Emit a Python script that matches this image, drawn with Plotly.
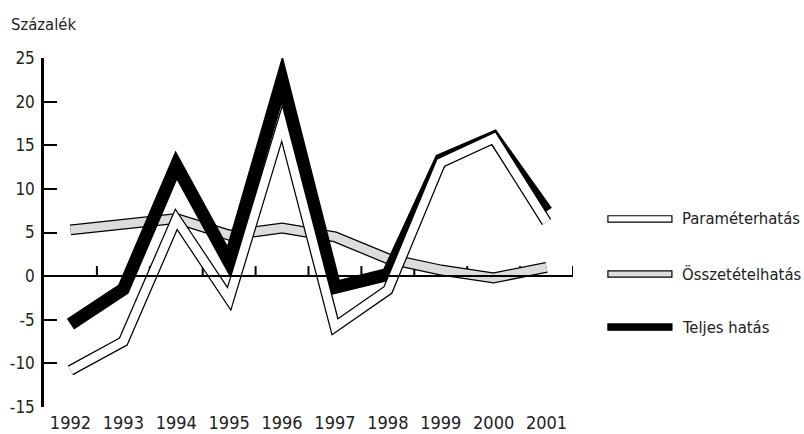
import plotly.graph_objects as go

# Data (percent)
years = ["1992", "1993", "1994", "1995", "1996", "1997", "1998", "1999", "2000", "2001"]
parameter_effect = [-10.8, -7.5, 6.5, -2.6, 17.5, -5.8, -1.6, 13.0, 15.8, 6.2]
composition_effect = [5.3, 6.0, 6.6, 4.7, 5.5, 4.5, 2.0, 0.7, -0.2, 1.0]
total_effect = [-5.5, -1.5, 12.7, 1.6, 22.5, -1.3, 0.2, 13.3, 15.9, 7.4]

series_names = ["Paraméterhatás", "Összetételhatás", "Teljes hatás"]
y_ticks = [-15, -10, -5, 0, 5, 10, 15, 20, 25]
y_tick_text = [str(v) for v in y_ticks]

FONT = "DejaVu Sans Condensed, Liberation Sans Narrow, sans-serif"
TEXT = "#222222"
GRAY = "#dcdcdc"

idx = list(range(len(years)))

fig = go.Figure()


def ribbon(values, fill, outer=11, inner=8.5):
    # outlined band: black stroke underneath, coloured stroke on top
    fig.add_trace(go.Scatter(x=idx, y=values, mode="lines",
                             line=dict(color="black", width=outer),
                             hoverinfo="skip", showlegend=False))
    if fill is not None:
        fig.add_trace(go.Scatter(x=idx, y=values, mode="lines",
                                 line=dict(color=fill, width=inner),
                                 hoverinfo="skip", showlegend=False))


ribbon(composition_effect, GRAY)
ribbon(total_effect, None, outer=13)
ribbon(parameter_effect, "white")

fig.update_layout(
    width=804, height=434,
    margin=dict(l=44, r=231, t=58, b=27, autoexpand=False),
    paper_bgcolor="white", plot_bgcolor="white",
    font=dict(family=FONT, color=TEXT, size=17),
    showlegend=False,
    xaxis=dict(
        range=[-0.5, 9.5], tickmode="array", tickvals=idx, ticktext=years,
        anchor="free", position=15 / 40, automargin=False,
        showline=True, linecolor="black", linewidth=2,
        showgrid=False, zeroline=False,
        ticks="", ticklen=0,
        tickfont=dict(size=18, family=FONT, color=TEXT),
        ticklabelstandoff=130,
    ),
    yaxis=dict(
        range=[-15, 25], tickmode="array", tickvals=y_ticks, ticktext=y_tick_text,
        automargin=False,
        showline=True, linecolor="black", linewidth=2.5,
        showgrid=False, zeroline=False,
        ticks="inside", ticklen=13, tickwidth=2, tickcolor="black",
        tickfont=dict(size=17, family=FONT, color=TEXT),
        ticklabelstandoff=3,
    ),
)

# category boundary ticks on the zero axis
for b in [i + 0.5 for i in idx]:
    fig.add_shape(type="line", xref="x", yref="y", x0=b, x1=b, y0=0, y1=1.15,
                  layer="below", line=dict(color="black", width=2))

fig.add_annotation(text="Százalék", xref="paper", yref="paper",
                   x=-0.066, y=1.13, xanchor="left", yanchor="top",
                   showarrow=False, font=dict(size=16.5, family=FONT, color=TEXT))

# legend
legend_fills = ["white", GRAY, "black"]
legend_y = [0.539, 0.381, 0.229]
for name, col, ly in zip(series_names, legend_fills, legend_y):
    fig.add_shape(type="rect", xref="paper", yref="paper",
                  x0=1.066, x1=1.187, y0=ly - 0.009, y1=ly + 0.009,
                  fillcolor=col, line=dict(color="black", width=1.2))
    fig.add_annotation(text=name, xref="paper", yref="paper",
                       x=1.203, y=ly, xanchor="left", yanchor="middle",
                       showarrow=False, font=dict(size=16.5, family=FONT, color=TEXT))

# sharp mitred corners on the ribbons
sharp_joins = """
var gd = document.getElementById('{plot_id}');
function sharpJoins() {
  gd.querySelectorAll('.scatterlayer path.js-line').forEach(function (p) {
    p.style.strokeLinejoin = 'miter';
    p.style.strokeMiterlimit = '12';
  });
}
sharpJoins();
gd.on('plotly_afterplot', sharpJoins);
"""

fig.write_html("out.html", post_script=sharp_joins)
